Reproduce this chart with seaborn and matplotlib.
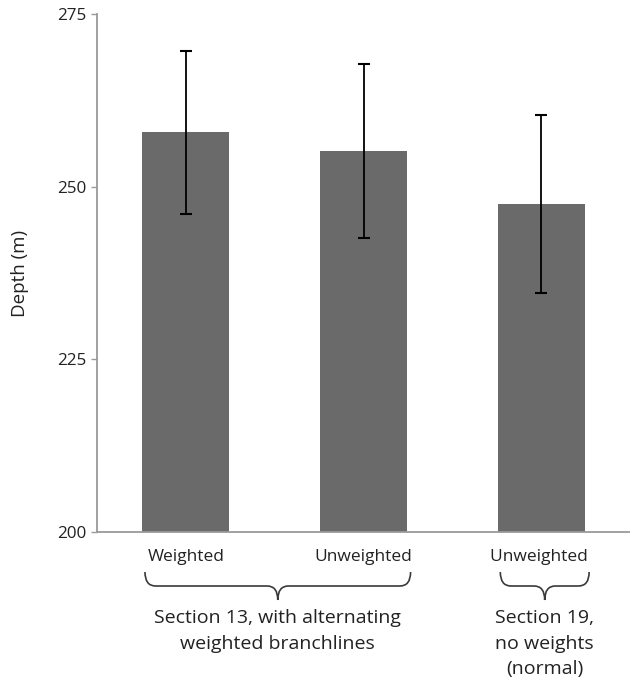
import matplotlib
matplotlib.use("Agg")
import matplotlib.pyplot as plt
import matplotlib.transforms as mtransforms
from matplotlib.path import Path
from matplotlib.patches import PathPatch
import seaborn as sns
import pandas as pd

# Mean depth per treatment with error-bar half-widths
categories = ["Weighted", "Unweighted", "Unweighted "]
depth_mean = [257.9, 255.1, 247.5]
depth_err = [11.8, 12.6, 12.9]
yticks = [200, 225, 250, 275]
group_labels = ["Section 13, with alternating\nweighted branchlines",
                "Section 19,\nno weights\n(normal)"]

sns.set_theme(style="white")
plt.rcParams["font.family"] = ["Open Sans", "DejaVu Sans"]

df = pd.DataFrame({"treatment": categories, "depth": depth_mean})

fig = plt.figure(figsize=(6.3, 6.8), dpi=100)
ax = fig.add_axes([97 / 630, 148 / 680, 533 / 630, 518 / 680])

sns.barplot(data=df, x="treatment", y="depth", color="#6a6a6a",
            saturation=1, width=0.49, errorbar=None, ax=ax, linewidth=0)
ax.errorbar(range(len(categories)), depth_mean, yerr=depth_err, fmt="none",
            ecolor="black", elinewidth=1.3, capsize=4, capthick=1.5)

ax.set_ylim(200, 275)
ax.set_xlim(-0.5, 2.5)
ax.set_yticks(yticks)
ax.set_xlabel("")
ax.set_ylabel("Depth (m)", fontsize=13.5, color="#222222", labelpad=20)
ax.tick_params(axis="y", length=4, width=1, color="#9a9a9a", direction="out",
               labelsize=12.3, labelcolor="#222222", pad=4, left=True)
ax.tick_params(axis="x", length=0, labelsize=12.5, labelcolor="#222222", pad=12)
for side in ("top", "right"):
    ax.spines[side].set_visible(False)
for side in ("left", "bottom"):
    ax.spines[side].set_color("#9a9a9a")
    ax.spines[side].set_linewidth(1.3)

# Curly braces grouping the bars by section
trans = mtransforms.blended_transform_factory(ax.transData, fig.transFigure)


def brace(x0, x1, ytop, ybar, ytip, r=0.06):
    xm = (x0 + x1) / 2
    verts = [(x0, ytop), (x0, ybar), (x0 + r, ybar),
             (xm - r, ybar),
             (xm, ybar), (xm, ytip),
             (xm, ybar), (xm + r, ybar),
             (x1 - r, ybar),
             (x1, ybar), (x1, ytop)]
    codes = [Path.MOVETO, Path.CURVE3, Path.CURVE3,
             Path.LINETO,
             Path.CURVE3, Path.CURVE3,
             Path.CURVE3, Path.CURVE3,
             Path.LINETO,
             Path.CURVE3, Path.CURVE3]
    patch = PathPatch(Path(verts, codes), transform=trans, fill=False,
                      edgecolor="#3a3a3a", linewidth=1.2, clip_on=False)
    fig.add_artist(patch)


def fy(px):
    return 1 - px / 680


brace(-0.23, 1.265, fy(572), fy(586), fy(600))
brace(1.77, 2.27, fy(572), fy(586), fy(600))

ax.text(0.515, fy(609), group_labels[0], transform=trans, ha="center",
        va="top", fontsize=14, color="#222222", linespacing=1.55)
ax.text(2.02, fy(609), group_labels[1], transform=trans, ha="center",
        va="top", fontsize=14, color="#222222", linespacing=1.55)

fig.savefig("out.png", dpi=100, facecolor="white")
